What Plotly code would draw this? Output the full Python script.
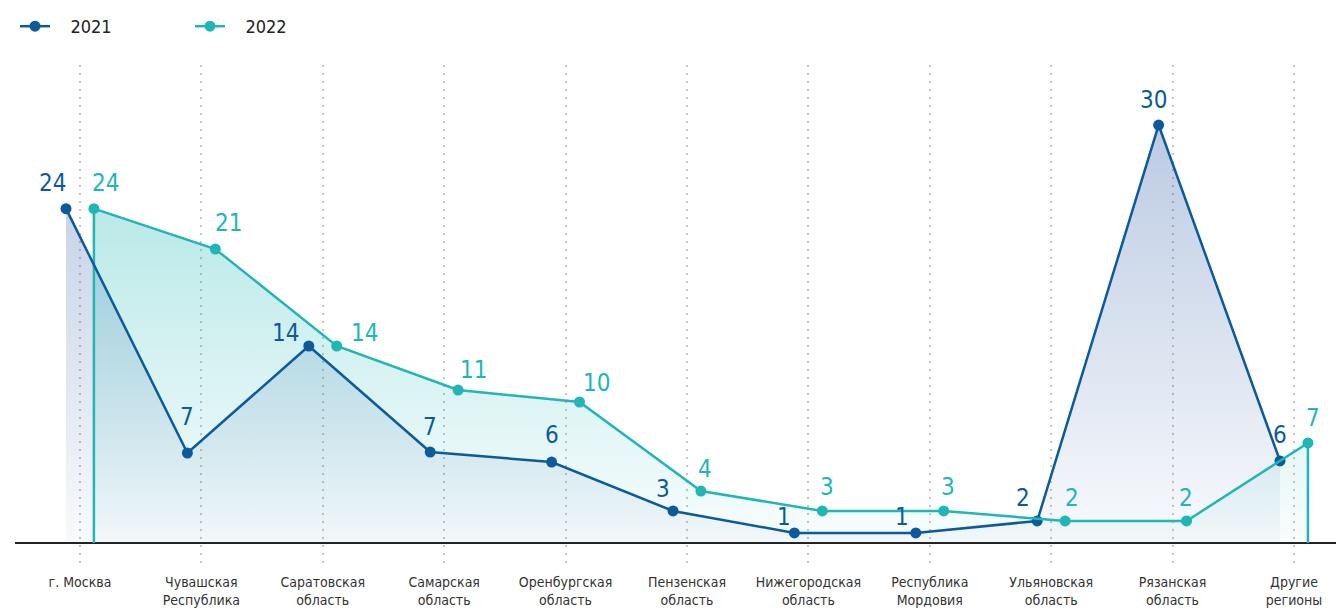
import plotly.graph_objects as go

categories = ["г. Москва", "Чувашская<br>Республика", "Саратовская<br>область", "Самарская<br>область",
              "Оренбургская<br>область", "Пензенская<br>область", "Нижегородская<br>область",
              "Республика<br>Мордовия", "Ульяновская<br>область", "Рязанская<br>область", "Другие<br>регионы"]
vals_2021 = [24.0, 6.46, 14.14, 6.53, 5.81, 2.3, 0.72, 0.72, 1.58, 30.0, 5.89]
vals_2022 = [24.0, 21.1, 14.14, 10.98, 10.12, 3.73, 2.3, 2.3, 1.58, 1.58, 7.18]
labels_2021 = ["24", "7", "14", "7", "6", "3", "1", "1", "2", "30", "6"]
labels_2022 = ["24", "21", "14", "11", "10", "4", "3", "3", "2", "2", "7"]

# label offsets (px) relative to each point: (dx, dy up)
lab_off_2021 = [(-13, 26), (0, 36), (-23, 13), (0, 25), (0, 27), (-10, 22), (-10, 16), (-14, 16), (-14, 23), (-5, 25), (0, 26)]
lab_off_2022 = [(12, 26), (13, 26), (28, 13), (15, 20), (17, 19), (4, 22), (5, 24), (4, 24), (7, 23), (-1, 23), (5, 25)]

C21 = "#0b5b9b"
C22 = "#21b6b6"
FONT = "DejaVu Sans Condensed, Roboto, sans-serif"
OFF = 0.115
n = len(categories)
x21 = [i - OFF for i in range(n)]
x22 = [i + OFF for i in range(n)]

fig = go.Figure()

# fills
fig.add_trace(go.Scatter(
    x=x21, y=vals_2021, mode="lines", line=dict(width=0), fill="tozeroy",
    fillgradient=dict(type="vertical", start=0, stop=max(vals_2021),
                      colorscale=[[0, "rgba(30,80,160,0.03)"], [1, "rgba(30,80,160,0.30)"]]),
    showlegend=False, hoverinfo="skip"))
fig.add_trace(go.Scatter(
    x=x22, y=vals_2022, mode="lines", line=dict(width=0), fill="tozeroy",
    fillgradient=dict(type="vertical", start=0, stop=max(vals_2022),
                      colorscale=[[0, "rgba(33,182,182,0.03)"], [1, "rgba(33,182,182,0.31)"]]),
    showlegend=False, hoverinfo="skip"))

# vertical end lines for 2022
fig.add_trace(go.Scatter(
    x=[x22[0], x22[0], None, x22[-1], x22[-1]],
    y=[0, vals_2022[0], None, 0, vals_2022[-1]],
    mode="lines", line=dict(color=C22, width=2.5), showlegend=False, hoverinfo="skip"))

NB = "\u00a0\u00a0\u00a0"
fig.add_trace(go.Scatter(
    x=x21, y=vals_2021, name=NB + "2021", mode="lines+markers",
    line=dict(color=C21, width=2.5), marker=dict(color=C21, size=11)))
fig.add_trace(go.Scatter(
    x=x22, y=vals_2022, name=NB + "2022", mode="lines+markers",
    line=dict(color=C22, width=2.5), marker=dict(color=C22, size=11)))

for xs, vs, labs, offs, col in [(x21, vals_2021, labels_2021, lab_off_2021, C21),
                                (x22, vals_2022, labels_2022, lab_off_2022, C22)]:
    for xv, yv, t, (dx, dy) in zip(xs, vs, labs, offs):
        fig.add_annotation(x=xv, y=yv, text=t, showarrow=False, xanchor="center", yanchor="middle",
                           xshift=dx, yshift=dy, font=dict(family=FONT, size=24, color=col))

fig.update_layout(
    width=1344, height=610,
    margin=dict(l=7, r=8, t=57, b=53),
    plot_bgcolor="white", paper_bgcolor="white",
    font=dict(family=FONT, color="#333333"),
    legend=dict(orientation="h", x=7 / 1344, y=1, xref="container", yref="container",
                xanchor="left", yanchor="top", font=dict(size=18, color="#222222"),
                entrywidth=130, entrywidthmode="pixels"),
    xaxis=dict(range=[-0.535, 10.412], tickmode="array", tickvals=list(range(n)),
               ticktext=categories, showgrid=True, gridcolor="#c4c4c4", griddash="2px,6px",
               gridwidth=2, zeroline=False, showline=False, ticks="", ticklabelstandoff=7,
               tickfont=dict(size=14, color="#333333")),
    yaxis=dict(range=[-1.58, 34.31], showgrid=False, showticklabels=False,
               zeroline=True, zerolinecolor="#222222", zerolinewidth=1.5),
)

fig.write_html("out.html")
